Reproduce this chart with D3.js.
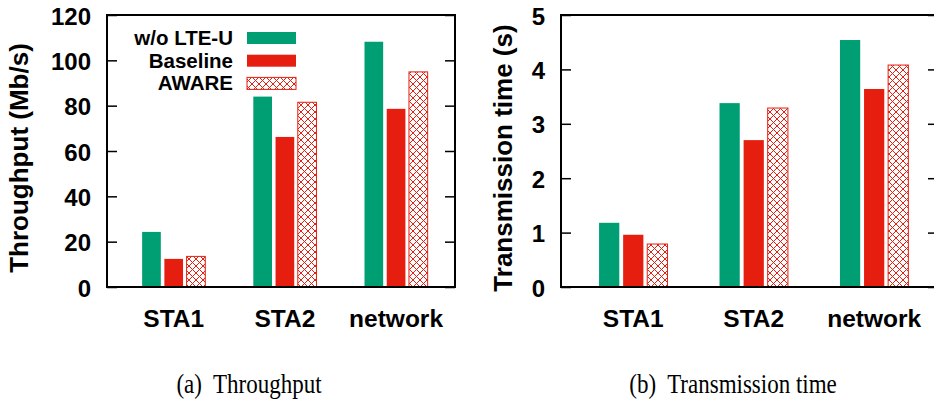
<!DOCTYPE html>
<html>
<head>
<meta charset="utf-8">
<script src="https://cdn.jsdelivr.net/npm/d3@7"></script>
<style>
  html, body { margin: 0; padding: 0; background: #fff; }
  svg { display: block; }
  text { font-family: "Liberation Sans", Arial, Helvetica, sans-serif; font-weight: bold; fill: #000; }
  .caption { font-family: "Liberation Serif", "Times New Roman", serif; font-weight: normal; }
</style>
</head>
<body>
<svg id="chart" width="934" height="400"></svg>
<script>
// ---- data ----
const categories = ["STA1", "STA2", "network"];
const seriesNames = ["w/o LTE-U", "Baseline", "AWARE"];
const throughputWoLteU = [24.3, 84.0, 108.2];
const throughputBaseline = [12.4, 66.2, 78.6];
const throughputAware = [13.5, 81.5, 94.9];
const timeWoLteU = [1.18, 3.38, 4.54];
const timeBaseline = [0.96, 2.70, 3.64];
const timeAware = [0.79, 3.29, 4.08];
const throughputTicks = [0, 20, 40, 60, 80, 100, 120];
const timeTicks = [0, 1, 2, 3, 4, 5];

const GREEN = "#009e73", RED = "#e51e10";
const svg = d3.select("#chart");

// crosshatch pattern
const defs = svg.append("defs");
const pat = defs.append("pattern").attr("id", "xhatch")
  .attr("patternUnits", "userSpaceOnUse").attr("width", 7).attr("height", 7);
pat.append("rect").attr("width", 7).attr("height", 7).attr("fill", "#fff");
pat.append("path").attr("d", "M0,0L7,7M7,0L0,7M-1,6L1,8M6,-1L8,1M6,8L8,6M-1,1L1,-1")
  .attr("stroke", RED).attr("stroke-width", 1).attr("fill", "none");

const fills = [GREEN, RED, "url(#xhatch)"];

function panel(opts) {
  const { left, right, top, bottom, series, ticks, ymax, title, titleX, caption, captionX, legend } = opts;
  const x = d3.scaleLinear().domain([-0.6, 2.53]).range([left, right]);
  const y = d3.scaleLinear().domain([0, ymax]).range([bottom, top]);
  const g = svg.append("g");
  const offsets = [-0.2, 0, 0.2];
  const bw = 0.168;

  series.forEach((vals, si) => {
    g.append("g").selectAll("rect").data(vals).join("rect")
      .attr("x", (d, i) => x(i + offsets[si] - bw / 2))
      .attr("width", x(bw) - x(0))
      .attr("y", d => y(d))
      .attr("height", d => y(0) - y(d))
      .attr("fill", fills[si])
      .attr("stroke", si === 2 ? RED : "none")
      .attr("stroke-width", 1);
  });

  // axes (inward ticks)
  const ax = g.append("g").attr("transform", `translate(${left},0)`)
    .call(d3.axisLeft(y).tickValues(ticks).tickSize(-10).tickPadding(16).tickFormat(d3.format("d")));
  ax.select(".domain").remove();
  ax.selectAll(".tick line").attr("stroke", "#000").attr("stroke-width", 1.5);
  ax.selectAll(".tick text").attr("font-size", 24).attr("dy", "0.38em")
    .attr("font-family", "Liberation Sans, Arial, sans-serif").attr("font-weight", "bold");
  const axr = g.append("g").attr("transform", `translate(${right},0)`)
    .call(d3.axisRight(y).tickValues(ticks).tickSize(-10).tickFormat(""));
  axr.select(".domain").remove();
  axr.selectAll(".tick line").attr("stroke", "#000").attr("stroke-width", 1.5);

  // frame
  g.append("rect").attr("x", left).attr("y", top).attr("width", right - left).attr("height", bottom - top)
    .attr("fill", "none").attr("stroke", "#000").attr("stroke-width", 2);

  // category labels
  g.append("g").selectAll("text").data(categories).join("text")
    .attr("x", (d, i) => x(i)).attr("y", 327)
    .attr("text-anchor", "middle").attr("font-size", 24.5).text(d => d);

  // y title
  g.append("text").attr("transform", `translate(${titleX},158) rotate(-90)`)
    .attr("text-anchor", "middle").attr("font-size", 26).text(title);

  // caption
  g.append("text").attr("class", "caption")
    .attr("transform", `translate(${captionX},393) scale(1,1.15)`)
    .attr("text-anchor", "middle").attr("font-size", 23).attr("xml:space", "preserve")
    .style("white-space", "pre").text(caption);

  if (legend) {
    const lg = g.append("g");
    seriesNames.forEach((name, i) => {
      const cy = 38 + i * 22.7;
      lg.append("text").attr("x", 233).attr("y", cy + 7).attr("text-anchor", "end")
        .attr("font-size", 20.5).text(name);
      lg.append("rect").attr("x", 247).attr("y", cy - 6).attr("width", 49).attr("height", 12)
        .attr("fill", fills[i]).attr("stroke", i === 2 ? RED : "none").attr("stroke-width", 1);
    });
  }
}

panel({
  left: 107, right: 455, top: 15, bottom: 287,
  series: [throughputWoLteU, throughputBaseline, throughputAware],
  ticks: throughputTicks, ymax: 120,
  title: "Throughput (Mb/s)", titleX: 28,
  caption: "(a)  Throughput", captionX: 249, legend: true
});
panel({
  left: 561, right: 938, top: 15, bottom: 287,
  series: [timeWoLteU, timeBaseline, timeAware],
  ticks: timeTicks, ymax: 5,
  title: "Transmission time (s)", titleX: 512,
  caption: "(b)  Transmission time", captionX: 733, legend: false
});
</script>
</body>
</html>
